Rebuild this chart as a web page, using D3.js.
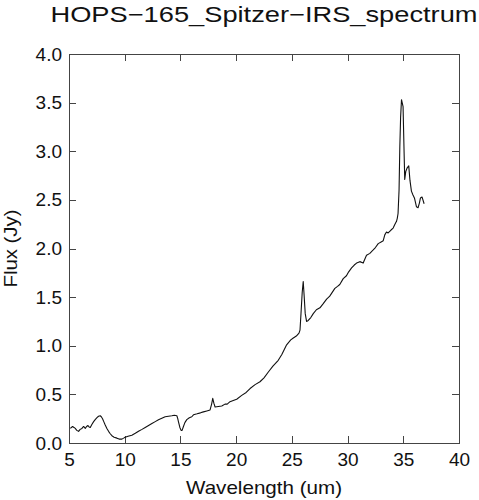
<!DOCTYPE html>
<html>
<head>
<meta charset="utf-8">
<script src="https://cdn.jsdelivr.net/npm/d3@7"></script>
<style>
  body { margin: 0; background: #fff; }
  text { font-family: "Liberation Sans", Arial, Helvetica, sans-serif; fill: #111; }
  .axis path, .axis line { stroke: #444; stroke-width: 1; shape-rendering: crispEdges; }
  .spectrum { fill: none; stroke: #111; stroke-width: 1.1; stroke-linejoin: round; }
</style>
</head>
<body>
<div id="chart"></div>
<script>
// spectrum (wavelength in um, flux in Jy)
let wavelength = [
    5.12, 5.32, 5.45, 5.56, 5.70, 5.86, 6.00, 6.16, 6.31, 6.46, 6.58, 6.70, 6.80, 6.91,
    7.05, 7.21, 7.35, 7.51, 7.65, 7.80, 7.90, 8.01, 8.12, 8.25, 8.40, 8.55, 8.70, 8.85,
    9.05, 9.30, 9.50, 9.75, 9.90, 10.04, 10.30, 10.64, 10.95, 11.24, 11.55, 11.84, 12.14,
    12.44, 12.74, 13.03, 13.33, 13.63, 13.93, 14.23, 14.45, 14.68, 14.76, 14.82, 14.95,
    15.06, 15.15, 15.27, 15.40, 15.57, 15.80, 16.02, 16.17, 16.50, 16.80, 17.06, 17.37,
    17.66, 17.80, 17.90, 18.00, 18.11, 18.40, 18.71, 19.00, 19.20, 19.45, 19.80, 20.05,
    20.50, 20.90, 21.25, 21.70, 22.14, 22.50, 22.89, 23.30, 23.78, 24.10, 24.53, 24.90,
    25.13, 25.40, 25.64, 25.73, 25.82, 25.93, 26.02, 26.10, 26.20, 26.32, 26.47, 26.70,
    26.92, 27.20, 27.52, 27.80, 28.12, 28.40, 28.86, 29.10, 29.30, 29.61, 29.90, 30.10,
    30.36, 30.60, 30.81, 31.10, 31.40, 31.70, 32.00, 32.30, 32.50, 32.75, 33.05, 33.20,
    33.34, 33.49, 33.64, 33.90, 34.09, 34.25, 34.39, 34.46, 34.53, 34.62, 34.69, 34.76,
    34.84, 34.90, 34.98, 35.06, 35.13, 35.22, 35.35, 35.49, 35.60, 35.73, 35.87, 36.00,
    36.18, 36.33, 36.45, 36.54, 36.68, 36.87
];
let flux = [
    0.15, 0.17, 0.16, 0.15, 0.13, 0.12, 0.14, 0.15, 0.17, 0.15, 0.17, 0.18, 0.165, 0.16,
    0.19, 0.22, 0.24, 0.26, 0.275, 0.28, 0.27, 0.25, 0.22, 0.185, 0.15, 0.12, 0.095, 0.075,
    0.06, 0.05, 0.04, 0.04, 0.05, 0.06, 0.07, 0.08, 0.10, 0.12, 0.14, 0.16, 0.18,
    0.20, 0.22, 0.24, 0.255, 0.27, 0.275, 0.28, 0.285, 0.28, 0.25, 0.22, 0.16,
    0.13, 0.13, 0.17, 0.21, 0.24, 0.26, 0.27, 0.29, 0.30, 0.31, 0.32, 0.33,
    0.34, 0.40, 0.46, 0.41, 0.37, 0.375, 0.38, 0.40, 0.40, 0.425, 0.44, 0.45,
    0.49, 0.52, 0.56, 0.60, 0.63, 0.67, 0.73, 0.79, 0.85, 0.91, 1.01, 1.06,
    1.08, 1.10, 1.13, 1.16, 1.33, 1.55, 1.66, 1.52, 1.33, 1.25, 1.26, 1.29,
    1.33, 1.37, 1.39, 1.43, 1.48, 1.51, 1.59, 1.61, 1.63, 1.69, 1.72, 1.76,
    1.80, 1.83, 1.85, 1.865, 1.85, 1.93, 1.95, 1.985, 2.01, 2.05, 2.07, 2.08,
    2.14, 2.17, 2.16, 2.19, 2.21, 2.25, 2.28, 2.31, 2.36, 2.60, 3.05, 3.35,
    3.53, 3.50, 3.46, 3.05, 2.71, 2.79, 2.83, 2.85, 2.70, 2.59, 2.55, 2.52,
    2.43, 2.42, 2.47, 2.52, 2.53, 2.46
];

let xTicks = [5, 10, 15, 20, 25, 30, 35, 40];
let yTicks = [0.0, 0.5, 1.0, 1.5, 2.0, 2.5, 3.0, 3.5, 4.0];
let xDomain = [5, 40];
let yDomain = [0, 4];

let chartTitle = "HOPS\u2212165_Spitzer\u2212IRS_spectrum";
let xTitle = "Wavelength (um)";
let yTitle = "Flux (Jy)";

// layout
let width = 479, height = 500;
let margin = {top: 54, right: 20, bottom: 57, left: 69};
let plotW = width - margin.left - margin.right;
let plotH = height - margin.top - margin.bottom;
let tickLen = 7;

let svg = d3.select("#chart").append("svg")
    .attr("width", width)
    .attr("height", height);

let x = d3.scaleLinear().domain(xDomain).range([0, plotW]);
let y = d3.scaleLinear().domain(yDomain).range([plotH, 0]);

let g = svg.append("g")
    .attr("transform", "translate(" + margin.left + "," + margin.top + ")");

//bottom axis with labels, ticks pointing inward
g.append("g").attr("class", "axis")
    .attr("transform", "translate(0," + plotH + ")")
    .call(d3.axisBottom(x).tickValues(xTicks).tickSize(-tickLen).tickSizeOuter(0).tickPadding(10))
    .selectAll("text").style("font-size", "19px");

//left axis
g.append("g").attr("class", "axis")
    .call(d3.axisLeft(y).tickValues(yTicks).tickFormat(d3.format(".1f")).tickSize(-tickLen).tickSizeOuter(0).tickPadding(7))
    .selectAll("text").style("font-size", "19px");

//mirror axes without labels
g.append("g").attr("class", "axis")
    .call(d3.axisTop(x).tickValues(xTicks).tickSize(-tickLen).tickSizeOuter(0).tickFormat(""));
g.append("g").attr("class", "axis")
    .attr("transform", "translate(" + plotW + ",0)")
    .call(d3.axisRight(y).tickValues(yTicks).tickSize(-tickLen).tickSizeOuter(0).tickFormat(""));

g.selectAll(".axis text").attr("fill", "#111");

let spectrum = wavelength.map((w, i) => ({w: w, f: flux[i]}));

let line = d3.line()
    .x(d => x(d.w))
    .y(d => y(d.f));

g.append("path")
    .datum(spectrum)
    .attr("class", "spectrum")
    .attr("d", line);

// titles
svg.append("text")
    .attr("x", margin.left + plotW / 2)
    .attr("y", 22)
    .attr("text-anchor", "middle")
    .attr("textLength", 427)
    .attr("lengthAdjust", "spacingAndGlyphs")
    .style("font-size", "22px")
    .text(chartTitle);

svg.append("text")
    .attr("x", margin.left + plotW / 2)
    .attr("y", 494)
    .attr("text-anchor", "middle")
    .attr("textLength", 156)
    .attr("lengthAdjust", "spacingAndGlyphs")
    .style("font-size", "19px")
    .text(xTitle);

svg.append("text")
    .attr("transform", "translate(17," + (margin.top + plotH / 2) + ") rotate(-90)")
    .attr("text-anchor", "middle")
    .attr("textLength", 78)
    .attr("lengthAdjust", "spacingAndGlyphs")
    .style("font-size", "18px")
    .text(yTitle);
</script>
</body>
</html>
